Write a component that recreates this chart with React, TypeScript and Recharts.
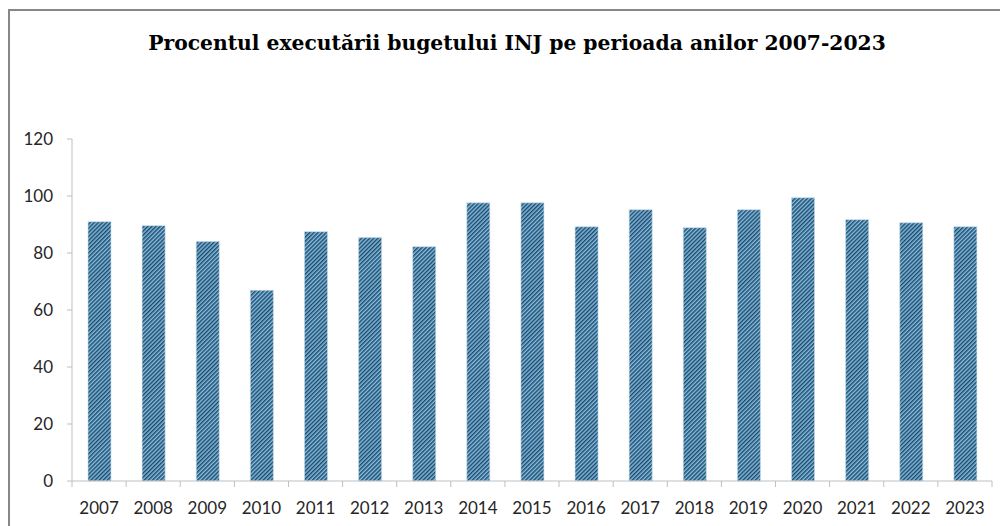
import React from 'react';
import { BarChart, Bar, XAxis, YAxis } from 'recharts';

const years = ['2007', '2008', '2009', '2010', '2011', '2012', '2013', '2014', '2015', '2016', '2017', '2018', '2019', '2020', '2021', '2022', '2023'];
const executionPercent = [91.0, 89.6, 84.0, 66.9, 87.5, 85.4, 82.2, 97.6, 97.6, 89.2, 95.2, 88.9, 95.2, 99.4, 91.7, 90.6, 89.2];
const yTicks = [0, 20, 40, 60, 80, 100, 120];
const titleText = 'Procentul executării bugetului INJ pe perioada anilor 2007-2023';

const data = years.map((y, i) => ({ year: y, value: executionPercent[i] }));

const AXIS_COLOR = '#bfbfbf';
const LABEL_FONT = 'Lato, "Open Sans", sans-serif';

const XTick = (props: any) => {
  const { x, y, payload, index } = props;
  const off = payload && typeof payload.offset === 'number' && payload.offset > 0 ? payload.offset : 27;
  const top = y - 21;
  const bottom = y - 15;
  return (
    <g>
      <line x1={x - off} x2={x - off} y1={top} y2={bottom} stroke={AXIS_COLOR} strokeWidth={1} />
      {index === years.length - 1 && (
        <line x1={x + off} x2={x + off} y1={top} y2={bottom} stroke={AXIS_COLOR} strokeWidth={1} />
      )}
      <text x={x} y={y} dy="0.71em" textAnchor="middle" fill="#262626" fontSize={17} fontFamily={LABEL_FONT}>
        {payload.value}
      </text>
    </g>
  );
};

export default function App() {
  return (
    <div style={{ position: 'fixed', left: 0, top: 0, width: 1000, height: 526, overflow: 'hidden', background: '#fff' }}>
      <svg width={0} height={0} style={{ position: 'absolute' }}>
        <defs>
          <pattern id="hatch" patternUnits="userSpaceOnUse" width={2.9} height={3} patternTransform="rotate(45)">
            <rect x={0} y={0} width={2.9} height={3} fill="#86bce2" />
            <rect x={0} y={0} width={1.45} height={3} fill="#1d4a68" />
          </pattern>
        </defs>
      </svg>
      <div
        style={{
          position: 'absolute',
          left: 8,
          top: 9,
          width: 1100,
          height: 600,
          border: '2px solid #878787',
          boxSizing: 'border-box',
        }}
      />
      <div
        style={{
          position: 'absolute',
          left: 0,
          width: 1034,
          top: 29,
          textAlign: 'center',
          fontFamily: '"DejaVu Serif", serif',
          fontWeight: 'bold',
          fontSize: 20.3,
          lineHeight: '28px',
          color: '#000',
          whiteSpace: 'nowrap',
        }}
      >
        {titleText}
      </div>
      <div style={{ position: 'absolute', left: 0, top: 0 }}>
        <BarChart
          width={1000}
          height={526}
          data={data}
          margin={{ top: 139, right: 8, bottom: 15, left: 12 }}
          barSize={23}
        >
          <XAxis
            dataKey="year"
            height={30}
            axisLine={{ stroke: AXIS_COLOR }}
            tickLine={false}
            tickSize={6}
            tickMargin={15}
            interval={0}
            tick={<XTick />}
          />
          <YAxis
            width={60}
            domain={[0, 120]}
            ticks={yTicks}
            interval={0}
            axisLine={{ stroke: AXIS_COLOR }}
            tickLine={{ stroke: AXIS_COLOR }}
            tickSize={5}
            tickMargin={14}
            tick={{ fill: '#262626', fontSize: 17, fontFamily: LABEL_FONT }}
          />
          <Bar
            dataKey="value"
            fill="url(#hatch)"
            stroke="#c5daea"
            strokeOpacity={0.6}
            strokeWidth={1}
            isAnimationActive={false}
          />
        </BarChart>
      </div>
    </div>
  );
}
